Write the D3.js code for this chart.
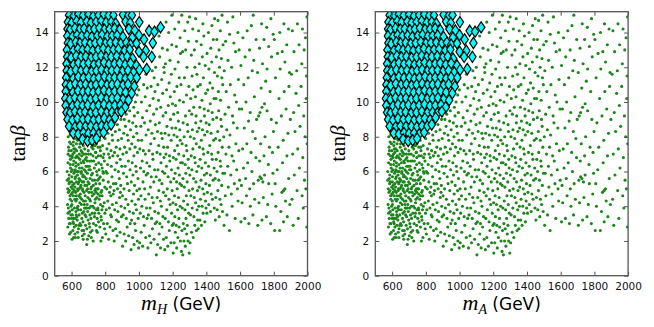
<!DOCTYPE html>
<html><head><meta charset="utf-8">
<script src="https://cdn.jsdelivr.net/npm/d3@7"></script>
<style>body{margin:0;background:#fff}</style>
</head><body><svg id="c" width="654" height="327"></svg>
<script>
const xTicks=[600,800,1000,1200,1400,1600,1800,2000];
const yTicks=[0,2,4,6,8,10,12,14];
const xDomain=[500,2000];
const yDomain=[0,15.2];
const panelSubscripts=["H","A"];

const greenPoints=[
[578,2.8],[583,3.3],[589,3.7],[576,4.1],[592,4.4],[581,4.8],[597,5.1],[574,5.5],[586,5.8],[594,6.2],[579,6.5],[590,6.9],[584,7.2],[596,7.6],[580,8.0],[588,8.4],[603,2.1],[608,2.6],[612,3.0],[605,3.5],[617,3.9],[601,4.3],[611,4.6],[606,5.0],[615,5.3],[602,5.7],[619,6.0],[609,6.4],[604,6.8],[616,7.1],[610,7.5],[618,7.9],[607,8.3],[599,8.6],[614,8.5],[595,2.5],[620,2.4],[587,4.9],[598,6.0],[613,6.6],[582,7.4],[593,3.0],[617,4.9],[601,5.4],[608,7.0],[621,5.6],[585,5.3],[597,4.0],[611,3.3],[604,3.8],
[623,2.2],[628,2.9],[634,3.2],[641,2.7],[626,3.7],[638,4.0],[645,3.5],[631,4.4],[649,4.2],[624,4.8],[637,5.0],[652,4.7],[629,5.4],[644,5.6],[656,5.2],[633,6.0],[647,6.2],[625,6.5],[640,6.8],[655,6.5],[630,7.2],[648,7.4],[636,7.8],[653,7.9],[627,8.2],[642,8.4],[658,8.2],[635,5.8],[650,3.0],[622,6.1],[643,4.6],[657,5.9],[632,3.4],[646,7.0],[639,5.3],[626,4.3],[654,3.8],[660,6.9],[629,7.6],[651,5.5],
[662,2.6],[668,3.1],[675,2.4],[683,2.9],[690,1.8],[664,3.6],[677,3.9],[686,3.4],[696,3.7],[671,4.3],[681,4.6],[693,4.1],[665,5.0],[679,5.2],[689,4.9],[698,5.4],[667,5.7],[684,6.0],[695,6.3],[673,6.5],[688,6.8],[663,7.1],[678,7.3],[692,7.6],[699,7.2],[670,7.8],[682,8.0],[666,8.3],[674,4.8],[687,5.6],[697,4.5],[661,4.4],[676,6.1],[691,2.7],[669,2.1],[680,3.5],[694,5.9],[685,7.0],
[702,2.3],[708,2.8],[715,3.3],[722,2.6],[730,3.0],[738,3.6],[745,2.9],[705,3.9],[712,4.3],[726,4.0],[741,4.4],[748,3.8],[703,4.8],[718,5.1],[733,4.7],[744,5.3],[710,5.6],[724,5.9],[737,5.5],[749,6.0],[706,6.3],[720,6.6],[735,6.2],[746,6.8],[713,7.0],[728,7.3],[742,7.1],[716,7.6],[731,7.9],[747,7.6],[739,8.1],[709,3.5],[723,4.6],[736,3.4],[704,5.3],[727,6.9],[743,5.0],[717,2.2],[750,4.5],[721,7.7],
[753,2.5],[760,3.1],[768,2.8],[775,3.4],[783,2.2],[790,3.0],[798,3.6],[756,3.9],[764,4.4],[772,4.1],[781,4.6],[794,4.2],[758,5.0],[767,5.3],[779,4.9],[788,5.5],[797,5.1],[752,5.8],[763,6.1],[776,6.4],[786,6.0],[795,6.6],[759,6.9],[771,7.2],[784,7.5],[792,7.0],[766,7.8],[778,8.1],[791,8.3],[799,7.9],[762,3.6],[780,3.8],[787,6.8],[757,4.7],[770,5.7],[796,2.7],[774,2.0],[785,4.0],
[587,3.0],[596,3.5],[602,4.1],[591,4.6],[606,5.2],[583,5.6],[614,5.9],[592,6.4],[603,6.9],[588,7.7],[615,8.1],[621,3.3],[633,3.9],[628,4.6],[646,5.0],[624,5.7],[640,6.4],[631,6.9],[650,7.6],[637,8.0],[659,4.1],[666,4.9],[672,5.4],[662,6.2],[681,6.7],[670,7.5],[688,8.1],[694,6.6],[698,3.2],[707,4.4],[714,5.0],[725,5.5],[711,6.1],[732,6.6],[719,7.4],[740,7.5],[734,3.9],[746,4.8],[755,5.5],[761,6.5],[773,6.9],[768,4.6],[752,3.3],[789,5.9],[777,3.2],[577,5.0],[574,6.0],[579,3.6],[600,3.3],[616,2.8],[636,2.5],[655,2.9],[672,2.6],[712,2.5],[748,2.6],[728,2.0],[598,7.2],[611,7.7],[626,6.3],[643,5.4],[658,6.0],[676,4.1],[690,5.2],[703,6.1],[719,4.8],[738,4.9],[744,7.1],[758,7.4],[764,8.0],[606,4.8],[620,5.1],[639,3.8],[652,4.5],[668,5.8],[684,3.9],
[581,3.9],[589,5.4],[593,6.7],[599,4.7],[604,6.1],[609,3.1],[613,7.3],[619,4.4],[624,6.8],[627,3.5],[632,7.9],[636,4.9],[641,6.0],[645,2.9],[649,6.7],[653,5.1],[657,7.2],[661,3.3],[664,5.4],[669,6.6],[673,3.7],[677,5.7],[682,4.3],[686,6.3],[691,3.9],[695,5.0],[700,7.0],[705,3.0],[709,6.6],[714,4.0],[718,5.8],[723,3.6],[729,5.2],[733,7.5],[739,4.2],[745,6.4],[751,5.0],[757,3.8],[763,5.6],[769,7.4],[775,4.8],[782,6.2],[588,2.4],[612,2.2],[640,2.2],[664,2.3],[694,2.1],[579,7.0],[592,8.1],[622,7.3],[645,8.0],[672,7.0],
[803,2.4],[812,3.0],[820,2.1],[828,2.8],[837,3.4],[846,2.6],[806,3.8],[815,4.3],[824,3.9],[833,4.6],[842,4.1],[808,5.0],[818,5.4],[830,5.1],[840,5.7],[849,5.3],[804,6.0],[814,6.4],[826,6.8],[836,6.3],[845,6.9],[810,7.3],[822,7.6],[834,7.2],[843,7.8],[816,8.2],[829,8.5],[841,8.1],[848,8.8],[838,9.0],[825,4.8],[811,5.9],[847,4.7],[819,7.0],[832,3.5],
[853,2.0],[861,2.7],[870,2.3],[879,3.1],[888,2.5],[896,3.4],[856,3.8],[866,4.2],[875,3.7],[885,4.5],[894,4.0],[852,4.9],[863,5.3],[873,5.0],[883,5.6],[892,5.2],[858,6.1],[868,6.5],[878,6.0],[889,6.7],[898,6.3],[855,7.1],[865,7.4],[876,7.8],[887,7.3],[897,7.9],[860,8.3],[872,8.7],[884,8.4],[893,9.0],[880,9.4],[899,9.6],[867,3.2],[890,4.8],[874,6.9],
[903,1.7],[912,2.4],[921,2.0],[930,2.8],[939,2.3],[948,3.0],[906,3.5],[916,3.9],[925,3.3],[935,4.1],[944,3.7],[902,4.6],[911,5.0],[922,4.4],[932,5.3],[942,4.9],[908,5.9],[918,6.3],[927,5.7],[937,6.6],[947,6.1],[905,7.0],[915,7.4],[926,7.1],[936,7.8],[946,7.3],[910,8.2],[920,8.6],[931,8.1],[941,8.9],[950,8.4],[924,9.3],[934,9.8],[945,9.5],[949,10.1],[913,9.0],
[953,1.5],[962,2.2],[971,1.8],[980,2.6],[990,2.0],[998,1.6],[956,3.2],[966,3.6],[975,3.0],[985,3.8],[995,3.3],[958,4.3],[968,4.7],[978,4.1],[988,4.9],[997,4.4],[954,5.4],[964,5.8],[974,5.2],[984,6.0],[994,5.6],[960,6.5],[970,6.9],[981,6.3],[991,7.1],[957,7.6],[967,8.0],[977,7.4],[987,8.2],[996,7.8],[963,8.8],[973,9.2],[983,8.6],[993,9.4],[979,10.0],[989,10.4],[999,10.7],[969,9.7],
[1004,1.9],[1013,2.5],[1022,1.7],[1031,2.9],[1040,2.2],[1048,3.3],[1007,3.6],[1017,4.0],[1027,3.4],[1036,4.4],[1045,3.9],[1003,5.0],[1012,4.6],[1024,5.4],[1034,5.0],[1043,5.8],[1009,6.2],[1019,6.6],[1029,6.0],[1038,7.0],[1047,6.5],[1005,7.3],[1016,7.8],[1026,7.2],[1042,8.1],[1011,8.6],[1021,9.1],[1033,8.8],[1046,9.5],[1015,10.0],[1037,10.3],[1028,11.0],[1049,10.8],[1041,11.6],
[1053,1.6],[1062,2.3],[1071,1.9],[1080,2.7],[1089,2.1],[1097,3.0],[1056,3.5],[1066,3.9],[1075,3.3],[1085,4.2],[1094,3.7],[1058,4.7],[1068,5.1],[1078,4.5],[1088,5.4],[1052,5.9],[1063,6.3],[1073,5.7],[1083,6.7],[1093,6.1],[1060,7.2],[1070,7.6],[1081,7.0],[1091,7.9],[1055,8.4],[1067,8.9],[1077,8.2],[1087,9.3],[1098,8.7],[1064,9.8],[1084,10.2],[1095,10.6],[1072,10.9],[1090,11.4],[1099,12.0],[1079,11.8],
[1103,1.2],[1111,1.8],[1120,2.4],[1128,1.6],[1137,2.8],[1146,2.1],[1106,3.1],[1115,3.6],[1124,3.0],[1133,4.0],[1142,3.4],[1108,4.5],[1118,4.9],[1127,4.3],[1136,5.3],[1145,4.8],[1102,5.7],[1113,6.1],[1122,5.5],[1131,6.5],[1140,6.0],[1149,6.8],[1107,7.1],[1117,7.5],[1126,7.0],[1138,7.9],[1147,7.4],[1110,8.3],[1121,8.8],[1132,8.2],[1143,9.2],[1105,9.6],[1116,10.1],[1129,9.7],[1141,10.5],[1112,11.0],[1135,11.3],[1148,12.0],[1123,12.6],[1139,13.1],[1144,14.3],[1119,13.8],[1150,11.7],
[1153,1.5],[1162,2.2],[1171,1.7],[1180,2.6],[1190,1.9],[1198,2.9],[1156,3.3],[1165,3.8],[1175,3.1],[1185,4.1],[1194,3.6],[1158,4.6],[1168,5.0],[1178,4.4],[1188,5.4],[1197,4.9],[1152,5.9],[1163,6.3],[1173,5.7],[1183,6.6],[1193,6.1],[1160,7.0],[1170,7.4],[1181,6.9],[1191,7.8],[1155,8.2],[1166,8.6],[1177,8.1],[1187,9.0],[1196,8.5],[1159,9.4],[1174,9.8],[1186,10.3],[1199,9.9],[1164,10.7],[1179,11.1],[1192,11.6],[1157,12.2],[1184,12.4],[1169,13.0],[1195,13.3],[1176,14.0],[1195,15.0],[1161,14.6],
[1203,1.3],[1209,1.9],[1216,2.5],[1224,1.6],[1231,2.2],[1238,2.8],[1246,2.0],[1205,3.0],[1213,3.4],[1221,2.9],[1229,3.8],[1237,3.3],[1244,4.0],[1202,4.2],[1211,4.6],[1219,4.1],[1227,5.0],[1235,4.5],[1243,5.3],[1207,5.6],[1215,5.9],[1223,5.4],[1232,6.2],[1240,5.8],[1248,6.5],[1204,6.8],[1212,7.2],[1220,6.7],[1228,7.5],[1236,7.0],[1245,7.8],[1208,8.1],[1218,8.5],[1226,8.0],[1234,8.9],[1242,8.4],[1206,9.3],[1217,9.8],[1230,9.4],[1241,10.1],[1210,10.6],[1225,10.9],[1239,11.4],[1214,11.9],[1233,12.3],[1247,12.8],[1222,13.2],[1244,13.7],[1212,14.2],[1236,14.6],[1249,11.0],
[1252,1.4],[1260,1.2],[1267,2.0],[1275,1.7],[1283,2.4],[1291,2.0],[1298,1.3],[1255,2.6],[1263,3.0],[1271,2.7],[1279,3.3],[1287,2.9],[1295,3.6],[1257,3.9],[1265,4.3],[1273,3.8],[1281,4.6],[1289,4.1],[1297,4.9],[1253,5.2],[1261,5.6],[1269,5.1],[1278,5.9],[1286,5.4],[1294,6.2],[1258,6.5],[1266,6.9],[1274,6.4],[1284,7.2],[1292,6.7],[1256,7.6],[1268,8.0],[1280,7.5],[1290,8.3],[1262,8.8],[1276,9.2],[1288,8.7],[1299,9.5],[1264,10.0],[1282,10.4],[1296,10.9],[1270,11.4],[1285,12.0],[1259,12.9],[1277,13.0],[1293,13.5],[1272,14.1],[1289,14.6],[1300,14.9],[1254,15.0],
[1303,1.9],[1312,2.5],[1322,2.2],[1331,2.9],[1341,2.6],[1348,3.2],[1306,3.5],[1316,3.9],[1326,3.4],[1336,4.2],[1345,3.8],[1308,4.6],[1318,5.0],[1328,4.5],[1338,5.4],[1347,4.9],[1302,5.8],[1314,6.1],[1324,5.6],[1334,6.5],[1343,6.0],[1310,6.9],[1320,7.3],[1330,6.8],[1340,7.6],[1305,8.0],[1317,8.4],[1327,7.9],[1337,8.8],[1346,8.3],[1313,9.3],[1325,9.7],[1339,9.2],[1307,10.2],[1321,10.7],[1335,10.3],[1349,10.9],[1315,11.5],[1332,12.0],[1344,11.6],[1311,12.7],[1329,13.0],[1342,13.5],[1319,14.2],[1336,14.8],
[1352,2.7],[1362,3.2],[1371,2.9],[1381,3.6],[1391,3.1],[1398,3.9],[1355,4.0],[1365,4.4],[1375,4.0],[1386,4.7],[1395,4.3],[1357,5.1],[1368,5.5],[1378,5.0],[1388,5.8],[1397,5.3],[1353,6.3],[1363,6.7],[1373,6.2],[1384,7.0],[1394,6.5],[1359,7.4],[1370,7.8],[1380,7.3],[1390,8.1],[1356,8.5],[1367,8.9],[1377,8.4],[1389,9.2],[1399,8.8],[1361,9.7],[1374,10.1],[1387,9.6],[1396,10.5],[1364,11.0],[1382,11.4],[1358,12.2],[1376,12.6],[1393,12.1],[1369,13.3],[1385,13.8],[1354,14.1],[1379,14.5],
[1403,3.6],[1414,4.1],[1425,3.7],[1436,4.4],[1447,3.9],[1406,4.8],[1418,5.2],[1429,4.7],[1440,5.5],[1402,5.9],[1413,6.3],[1424,5.8],[1435,6.7],[1446,6.2],[1409,7.1],[1420,7.5],[1431,7.0],[1443,7.8],[1405,8.3],[1417,8.7],[1428,8.2],[1439,9.0],[1411,9.5],[1423,9.9],[1434,9.4],[1445,10.2],[1408,10.7],[1421,11.1],[1437,10.8],[1415,11.9],[1432,12.3],[1448,11.7],[1404,12.8],[1426,13.1],[1441,13.6],[1412,14.0],[1433,14.4],[1449,14.8],
[1453,3.2],[1464,3.8],[1476,3.4],[1487,4.1],[1496,3.7],[1456,4.5],[1468,4.9],[1480,4.4],[1491,5.2],[1452,5.6],[1463,6.0],[1474,5.5],[1485,6.3],[1498,5.9],[1458,6.7],[1470,7.1],[1482,6.6],[1494,7.4],[1455,7.9],[1467,8.3],[1479,7.8],[1490,8.6],[1461,9.1],[1473,9.5],[1486,9.0],[1457,10.2],[1471,10.6],[1484,10.1],[1497,11.0],[1465,11.5],[1478,12.0],[1492,11.4],[1459,12.6],[1475,13.0],[1489,12.5],[1462,13.6],[1483,14.1],[1499,13.3],[1469,14.7],[1493,15.0],
[1505,2.9],[1522,3.5],[1537,2.6],[1553,4.0],[1571,3.3],[1588,4.3],[1512,4.6],[1530,5.1],[1548,4.7],[1566,5.3],[1584,5.0],[1597,5.5],[1508,5.9],[1527,6.3],[1545,5.8],[1562,6.6],[1580,6.1],[1516,7.0],[1534,7.4],[1552,6.9],[1575,7.6],[1592,7.2],[1503,8.0],[1521,8.4],[1540,8.1],[1560,8.8],[1583,8.5],[1511,9.3],[1532,9.7],[1555,9.2],[1578,10.0],[1596,9.6],[1518,10.6],[1542,11.0],[1568,10.4],[1590,11.3],[1506,11.8],[1528,12.4],[1550,12.0],[1573,12.9],[1514,13.5],[1538,13.9],[1563,13.4],[1587,14.0],[1525,14.6],[1557,14.9],[1594,13.0],
[1605,3.1],[1628,3.3],[1652,3.0],[1676,3.5],[1612,4.2],[1638,4.6],[1661,4.0],[1687,4.4],[1608,5.2],[1633,5.6],[1657,5.0],[1680,5.3],[1620,6.2],[1645,6.5],[1670,6.0],[1694,6.8],[1615,7.3],[1640,7.6],[1665,7.1],[1690,7.9],[1625,8.5],[1650,8.9],[1675,8.3],[1698,9.0],[1610,9.6],[1635,10.0],[1660,9.4],[1685,10.3],[1622,11.0],[1648,11.4],[1672,11.8],[1605,12.1],[1630,12.6],[1656,13.0],[1681,12.4],[1617,13.7],[1642,14.1],[1667,14.4],[1695,13.6],[1678,15.0],
[1705,2.9],[1730,3.2],[1756,3.4],[1782,3.0],[1712,4.2],[1738,4.5],[1764,4.1],[1790,4.7],[1708,5.5],[1718,5.7],[1726,5.6],[1735,5.4],[1745,5.8],[1770,5.3],[1795,5.9],[1716,6.6],[1742,6.9],[1768,6.4],[1792,7.1],[1722,7.6],[1748,8.0],[1774,7.4],[1798,8.3],[1710,9.2],[1718,9.4],[1730,9.7],[1745,9.9],[1760,9.5],[1785,9.0],[1725,10.8],[1752,11.2],[1778,10.6],[1704,11.7],[1733,12.2],[1760,11.9],[1787,12.6],[1715,13.1],[1742,13.6],[1770,13.2],[1796,13.9],[1728,14.5],[1758,14.3],[1783,14.8],
[1805,2.6],[1835,2.6],[1858,3.1],[1880,3.4],[1812,4.0],[1842,3.7],[1870,4.3],[1895,4.1],[1808,5.3],[1848,4.8],[1858,4.9],[1866,5.0],[1888,5.6],[1820,6.1],[1852,6.5],[1878,6.9],[1826,7.4],[1856,7.8],[1884,8.2],[1815,8.8],[1845,9.2],[1873,9.6],[1898,9.0],[1831,10.2],[1862,10.6],[1890,10.9],[1810,11.4],[1838,11.9],[1866,12.3],[1893,11.7],[1822,12.8],[1850,12.9],[1877,13.3],[1803,13.6],[1836,14.0],[1860,14.5],[1887,14.2],
[1915,2.9],[1945,3.3],[1975,3.9],[1996,2.8],[1908,4.4],[1938,4.9],[1968,4.6],[1990,5.0],[1922,5.8],[1952,6.2],[1982,5.5],[1912,7.0],[1942,7.3],[1972,6.8],[1998,7.6],[1926,8.3],[1956,8.6],[1986,8.0],[1918,9.4],[1948,9.8],[1978,9.2],[1932,10.5],[1962,10.9],[1992,10.2],[1905,11.6],[1936,11.8],[1966,12.2],[1994,11.5],[1920,12.9],[1950,13.3],[1980,13.0],[1910,14.1],[1940,14.5],[1970,14.2],[1997,14.9],[1988,13.7]
];

const diamondPoints=[
[585,15.0],[612,14.95],[640,15.05],[668,14.98],[700,15.02],[728,14.93],[760,15.0],[790,15.05],[820,14.97],[848,15.0],[905,15.03],[935,14.95],[958,15.0],
[578,14.6],[600,14.55],[630,14.65],[655,14.58],[690,14.62],[715,14.55],[745,14.6],[775,14.66],[805,14.57],[835,14.6],[862,14.52],[920,14.63],[948,14.55],[1002,14.6],
[576,14.2],[590,14.15],[620,14.25],[648,14.18],[675,14.22],[705,14.14],[735,14.2],[765,14.26],[795,14.17],[825,14.2],[855,14.23],[885,14.15],[940,14.2],[975,14.12],[1060,14.1],[1092,14.05],[1128,14.3],
[575,13.8],[605,13.75],[632,13.85],[660,13.78],[692,13.82],[720,13.74],[752,13.8],[780,13.86],[812,13.77],[840,13.8],[870,13.83],[905,13.75],[960,13.7],[1000,13.85],[1030,13.6],
[578,13.4],[595,13.35],[625,13.45],[650,13.38],[680,13.42],[710,13.34],[740,13.4],[770,13.46],[800,13.37],[830,13.4],[862,13.43],[892,13.35],[925,13.42],[950,13.3],[985,13.38],[1082,13.4],
[572,13.0],[610,12.95],[638,13.05],[665,12.98],[695,13.02],[725,12.94],[758,13.0],[788,13.06],[818,12.97],[848,13.0],[878,13.03],[915,12.95],[945,13.02],[1000,12.9],[1040,12.95],
[574,12.6],[598,12.55],[628,12.65],[655,12.58],[685,12.62],[715,12.54],[745,12.6],[775,12.66],[805,12.57],[835,12.6],[868,12.63],[900,12.55],[930,12.62],[962,12.5],[1027,12.6],[1076,12.6],
[570,12.2],[612,12.15],[640,12.25],[670,12.18],[700,12.22],[732,12.14],[762,12.2],[792,12.26],[822,12.17],[855,12.2],[885,12.23],[918,12.15],[950,12.22],[985,12.1],[1046,11.9],
[571,11.8],[595,11.75],[625,11.85],[655,11.78],[688,11.82],[718,11.74],[748,11.8],[778,11.86],[808,11.77],[838,11.8],[870,11.83],[902,11.75],[935,11.82],[968,11.7],[1003,11.85],
[568,11.4],[610,11.35],[640,11.45],[670,11.38],[702,11.42],[732,11.34],[762,11.4],[795,11.46],[825,11.37],[855,11.4],[888,11.43],[920,11.35],[950,11.42],[987,11.4],
[566,11.0],[592,10.95],[622,11.05],[652,10.98],[684,11.02],[715,10.94],[745,11.0],[778,11.06],[810,10.97],[840,11.0],[872,11.03],[905,10.95],[935,11.02],[972,10.9],
[565,10.6],[608,10.55],[638,10.65],[668,10.58],[698,10.62],[728,10.54],[760,10.6],[792,10.66],[822,10.57],[855,10.6],[888,10.63],[920,10.55],[957,10.5],
[563,10.2],[590,10.15],[620,10.25],[650,10.18],[682,10.22],[712,10.14],[744,10.2],[776,10.26],[808,10.17],[840,10.2],[872,10.23],[905,10.15],[938,10.1],
[565,9.8],[605,9.75],[635,9.85],[665,9.78],[696,9.82],[728,9.74],[760,9.8],[792,9.86],[824,9.77],[856,9.8],[890,9.83],[918,9.7],
[570,9.4],[590,9.35],[620,9.45],[650,9.38],[680,9.42],[712,9.34],[744,9.4],[776,9.46],[808,9.37],[840,9.4],[868,9.35],[895,9.45],
[576,9.0],[605,8.95],[635,9.05],[666,8.98],[698,9.02],[730,8.94],[762,9.0],[794,9.06],[825,8.97],[858,9.1],
[585,8.6],[620,8.55],[650,8.62],[682,8.58],[714,8.6],[746,8.55],[778,8.62],[808,8.6],[835,8.7],
[610,8.2],[640,8.15],[670,8.22],[700,8.18],[730,8.2],[760,8.15],[790,8.25],
[665,7.85],[695,7.75],[722,7.8],[748,7.9]
];

const svg=d3.select("#c");
const plotTop=11.7,plotBottom=275.7;
const panelLefts=[54.7,375.3],panelWidth=252.8;
const frameColor="#555";

panelSubscripts.forEach((sub,i)=>{
  const x0=panelLefts[i],x1=x0+panelWidth;
  const x=d3.scaleLinear().domain(xDomain).range([x0,x1]);
  const y=d3.scaleLinear().domain(yDomain).range([plotBottom,plotTop]);
  const g=svg.append("g");
  const cid="clip"+i;
  svg.append("clipPath").attr("id",cid).append("rect")
    .attr("x",x0).attr("y",plotTop).attr("width",x1-x0).attr("height",plotBottom-plotTop);
  const plot=g.append("g").attr("clip-path",`url(#${cid})`);
  plot.selectAll("circle").data(greenPoints).join("circle")
    .attr("cx",d=>x(d[0])).attr("cy",d=>y(d[1])).attr("r",1.55)
    .attr("fill","#1c861c");
  const dia="M0,-5.6L3.7,0L0,5.6L-3.7,0Z";
  plot.selectAll("path.d").data(diamondPoints).join("path").attr("class","d")
    .attr("d",dia).attr("transform",d=>`translate(${x(d[0])},${y(d[1])})`)
    .attr("fill","#00ffff").attr("stroke","#000").attr("stroke-width",1.2);
  const ax=g.append("g").attr("transform",`translate(0,${plotBottom})`)
    .call(d3.axisBottom(x).tickValues(xTicks).tickSize(-4).tickPadding(7).tickFormat(d3.format("d")));
  const axTop=g.append("g").attr("transform",`translate(0,${plotTop})`)
    .call(d3.axisTop(x).tickValues(xTicks).tickSize(-4).tickFormat(""));
  const ay=g.append("g").attr("transform",`translate(${x0},0)`)
    .call(d3.axisLeft(y).tickValues(yTicks).tickSize(-4).tickPadding(6).tickFormat(d3.format("d")));
  const ayR=g.append("g").attr("transform",`translate(${x1},0)`)
    .call(d3.axisRight(y).tickValues(yTicks).tickSize(-4).tickFormat(""));
  [ax,axTop,ay,ayR].forEach(a=>{
    a.select(".domain").remove();
    a.selectAll(".tick line").attr("stroke",frameColor);
    a.selectAll(".tick text").attr("font-family","DejaVu Sans").attr("font-size","10.5px").attr("fill","#111");
  });
  g.append("rect").attr("x",x0).attr("y",plotTop).attr("width",x1-x0).attr("height",plotBottom-plotTop)
    .attr("fill","none").attr("stroke",frameColor).attr("stroke-width",1.3);
  const yl=g.append("text").attr("transform",`translate(${x0-30},${(plotTop+plotBottom)/2}) rotate(-90)`)
    .attr("text-anchor","middle").attr("font-family","Liberation Serif").attr("font-size","21px").attr("fill","#000");
  yl.append("tspan").text("tan");
  yl.append("tspan").attr("font-style","italic").text("β");
  const xl=g.append("text").attr("x",(x0+x1)/2).attr("y",310).attr("text-anchor","middle").attr("fill","#000");
  xl.append("tspan").attr("font-family","Liberation Serif").attr("font-style","italic").attr("font-size","22px").text("m");
  xl.append("tspan").attr("font-family","Liberation Serif").attr("font-style","italic").attr("font-size","14px").attr("dy",4).text(sub);
  xl.append("tspan").attr("font-family","DejaVu Sans").attr("font-size","17px").attr("dy",-4).text(" (GeV)");
});
</script></body></html>
